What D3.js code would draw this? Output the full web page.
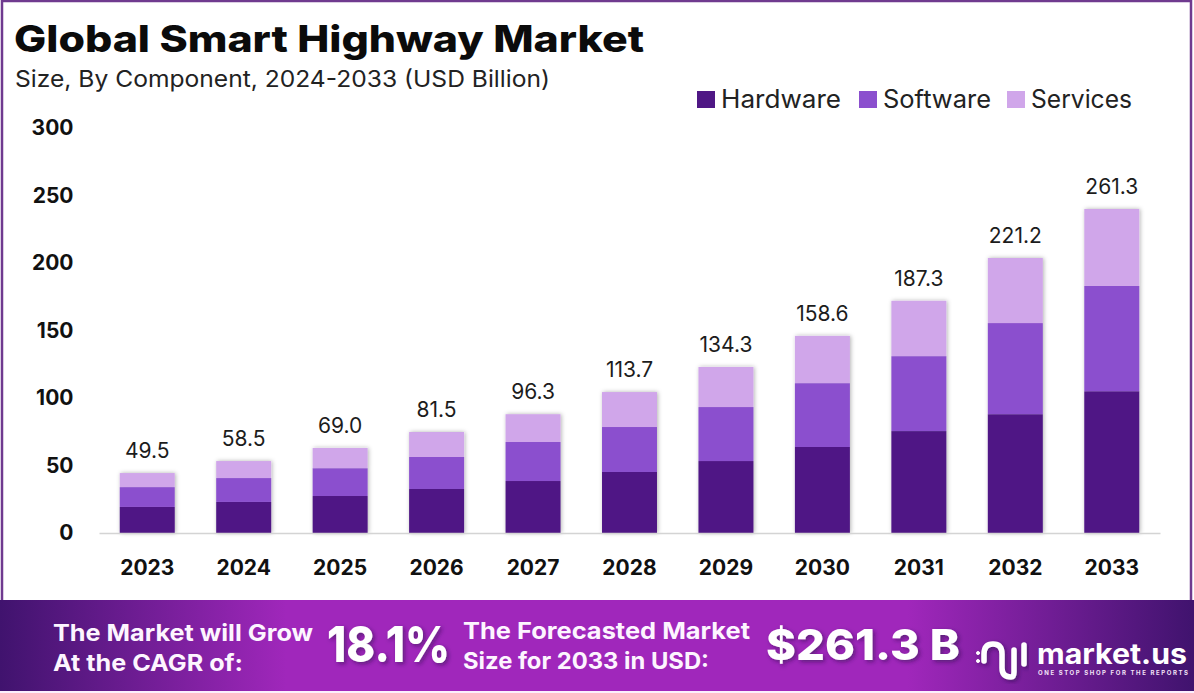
<!DOCTYPE html>
<html>
<head>
<meta charset="utf-8">
<script src="https://cdn.jsdelivr.net/npm/d3@7"></script>
<style>
  html, body { margin: 0; padding: 0; background: #fff; }
  svg { display: block; }
  text { font-family: "Inter", "Open Sans", sans-serif; }
</style>
</head>
<body>
<svg id="chart"></svg>
<script>
let years = ["2023","2024","2025","2026","2027","2028","2029","2030","2031","2032","2033"];
let hardware = [19.3,23,27.4,32.6,38.5,45.2,53.3,63.7,75.5,88,105];
let software = [14.7,17.7,20.6,23.7,28.9,33.3,40,47.3,55.5,67.5,78];
let services = [10.4,12.6,15,18.5,20.6,25.9,29.7,35,41,48.2,57];
let totalLabels = ["49.5","58.5","69.0","81.5","96.3","113.7","134.3","158.6","187.3","221.2","261.3"];
let yTicks = [0,50,100,150,200,250,300];
let seriesNames = ["Hardware","Software","Services"];
let seriesColors = ["#4f1785","#8b4fce","#d0a6ea"];

let width = 1194;
let height = 693;
let svg = d3.select("#chart").attr("width",width).attr("height",height);

let defs = svg.append("defs");
let grad = defs.append("linearGradient").attr("id","banner");
grad.append("stop").attr("offset","0%").attr("stop-color","#40136e");
grad.append("stop").attr("offset","24%").attr("stop-color","#a027bb");
grad.append("stop").attr("offset","76%").attr("stop-color","#a027bb");
grad.append("stop").attr("offset","100%").attr("stop-color","#40136e");
let shadow = defs.append("filter").attr("id","barShadow")
    .attr("x","-10%").attr("y","-10%").attr("width","120%").attr("height","120%");
shadow.append("feDropShadow").attr("dx",1).attr("dy",0).attr("stdDeviation",2)
    .attr("flood-color","#000").attr("flood-opacity",0.3);
let textShadow = defs.append("filter").attr("id","textShadow")
    .attr("x","-10%").attr("y","-20%").attr("width","120%").attr("height","140%");
textShadow.append("feDropShadow").attr("dx",2).attr("dy",2).attr("stdDeviation",2)
    .attr("flood-color","#2a0a4a").attr("flood-opacity",0.55);

// frame
svg.append("rect").attr("x",2).attr("y",1).attr("width",1189).attr("height",640)
    .attr("fill","none").attr("stroke","#6f3a8f").attr("stroke-width",2.5);

// title
svg.append("text").text("Global Smart Highway Market")
    .attr("x",14).attr("y",52).attr("font-size",37).attr("font-weight",800)
    .attr("fill","#0b0b0b").attr("textLength",630).attr("lengthAdjust","spacingAndGlyphs");
svg.append("text").text("Size, By Component, 2024-2033 (USD Billion)")
    .attr("x",15).attr("y",87).attr("font-size",23).attr("fill","#222")
    .attr("textLength",535).attr("lengthAdjust","spacingAndGlyphs");

// scales
let xScale = d3.scaleBand().domain(years).range([99,1160]).paddingInner(0.43).paddingOuter(0.215);
let yScale = d3.scaleLinear().domain([0,300]).range([533,128]);

// stacked bars
let rows = years.map((y,i)=>({year:y,Hardware:hardware[i],Software:software[i],Services:services[i]}));
let stacked = d3.stack().keys(seriesNames)(rows);

let barGroups = svg.append("g").selectAll("g").data(years).join("g").attr("filter","url(#barShadow)");
barGroups.selectAll("rect")
    .data((y,i)=>stacked.map((s,k)=>({year:y,low:s[i][0],high:s[i][1],color:seriesColors[k]})))
    .join("rect")
    .attr("x",d=>xScale(d.year))
    .attr("width",xScale.bandwidth())
    .attr("y",d=>yScale(d.high))
    .attr("height",d=>yScale(d.low)-yScale(d.high))
    .attr("fill",d=>d.color);

// axes
let xAxis = d3.axisBottom(xScale).tickSize(0).tickPadding(27);
let xg = svg.append("g").attr("transform","translate(0,533)").call(xAxis);
xg.select(".domain").attr("stroke","#d4d4d4").attr("stroke-width",1.5);
xg.selectAll("text").attr("font-size",21).attr("font-weight",700).attr("fill","#111");

let yAxis = d3.axisLeft(yScale).tickValues(yTicks).tickSize(0).tickPadding(0);
let yg = svg.append("g").attr("transform","translate(73.5,0)").call(yAxis);
yg.select(".domain").remove();
yg.selectAll("text").attr("font-size",21).attr("font-weight",700).attr("fill","#111");

// total labels
svg.append("g").selectAll("text").data(years).join("text")
    .attr("x",d=>xScale(d)+xScale.bandwidth()/2)
    .attr("y",(d,i)=>yScale(hardware[i]+software[i]+services[i])-15)
    .attr("text-anchor","middle").attr("font-size",21).attr("font-weight",400).attr("fill","#1c1c1c")
    .text((d,i)=>totalLabels[i]);

// legend
let legendX = [697,859,1007];
let legendW = [120,108,101];
let legend = svg.append("g").selectAll("g").data(seriesNames).join("g")
    .attr("transform",(d,i)=>"translate("+legendX[i]+",91)");
legend.append("rect").attr("width",18).attr("height",17).attr("fill",(d,i)=>seriesColors[i]);
legend.append("text").text(d=>d).attr("x",24).attr("y",17).attr("font-size",25).attr("fill","#222")
    .attr("textLength",(d,i)=>legendW[i]).attr("lengthAdjust","spacingAndGlyphs");

// banner
svg.append("rect").attr("x",0).attr("y",600).attr("width",width).attr("height",91).attr("fill","url(#banner)");
svg.append("rect").attr("x",0).attr("y",691).attr("width",width).attr("height",2).attr("fill","#fbeffd");

let bannerText = [
    {t:"The Market will Grow",x:53,y:641,s:23,w:260},
    {t:"At the CAGR of:",x:53,y:671,s:23,w:190},
    {t:"The Forecasted Market",x:463,y:639,s:23,w:287},
    {t:"Size for 2033 in USD:",x:463,y:669,s:23,w:246}
];
svg.append("g").selectAll("text").data(bannerText).join("text")
    .text(d=>d.t).attr("x",d=>d.x).attr("y",d=>d.y).attr("font-size",d=>d.s)
    .attr("font-weight",700).attr("fill","#fdf5ff")
    .attr("textLength",d=>d.w).attr("lengthAdjust","spacingAndGlyphs");

let bigText = [
    {t:"18.1%",x:327,y:662,s:50,w:123},
    {t:"$261.3 B",x:766,y:660,s:43,w:194}
];
svg.append("g").selectAll("text").data(bigText).join("text")
    .text(d=>d.t).attr("x",d=>d.x).attr("y",d=>d.y).attr("font-size",d=>d.s)
    .attr("font-weight",800).attr("fill","#fff").attr("filter","url(#textShadow)")
    .attr("textLength",d=>d.w).attr("lengthAdjust","spacingAndGlyphs");

// logo mark
let logo = svg.append("g").attr("fill","none").attr("stroke","#fff").attr("stroke-width",5.5)
    .attr("stroke-linecap","round").attr("filter","url(#textShadow)");
logo.append("path").attr("d","M984 661 V654 Q984 644 993 644 Q1002 644 1002 654 V668 Q1002 677 1011 677 Q1014 677 1014 672 V650");
logo.append("path").attr("d","M1024 645 V664");
logo.append("circle").attr("cx",978).attr("cy",661).attr("r",1.5).attr("fill","#fff").attr("stroke-width",1);
logo.append("circle").attr("cx",978).attr("cy",653).attr("r",1.5).attr("fill","#fff").attr("stroke-width",1);

svg.append("text").text("market.us").attr("x",1037).attr("y",664)
    .attr("font-size",28).attr("font-weight",700).attr("fill","#fff")
    .attr("textLength",150).attr("lengthAdjust","spacingAndGlyphs");
svg.append("text").text("ONE STOP SHOP FOR THE REPORTS").attr("x",1038).attr("y",675)
    .attr("font-size",6).attr("font-weight",700).attr("fill","#f3e3f7")
    .attr("textLength",150).attr("lengthAdjust","spacing");
</script>
</body>
</html>
